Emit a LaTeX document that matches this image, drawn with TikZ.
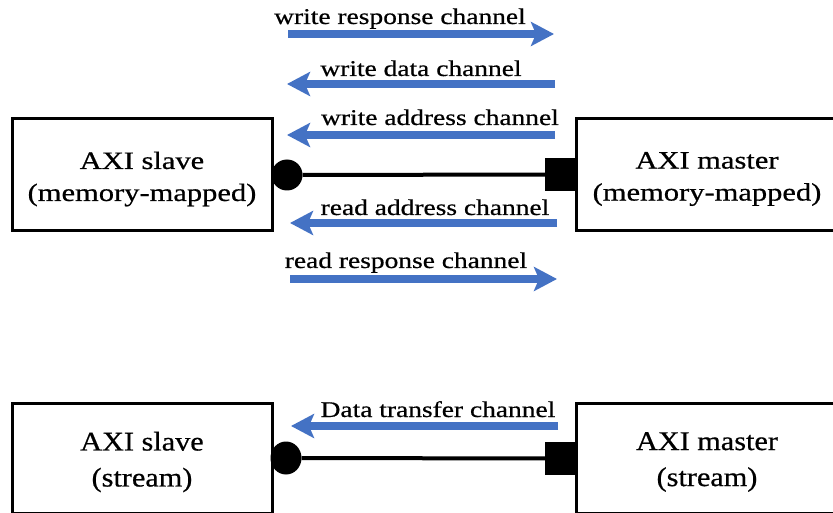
\documentclass[tikz,border=0pt]{standalone}
\usepackage{fontspec}
\setmainfont[FakeStretch=1.22,FakeBold=0.6]{Liberation Serif}
\newfontfamily\tallfont[FakeStretch=1.12,FakeBold=0.6]{Liberation Serif}
\usetikzlibrary{arrows.meta,shapes.geometric}
\definecolor{chanblue}{HTML}{4472C4}
\tikzset{
  ipbox/.style={draw=black, line width=3pt, fill=white, minimum width=260pt, inner sep=0pt},
  boxtext/.style={align=center, inner sep=0pt, font=\fontsize{25}{32}\selectfont},
  streamtext/.style={align=center, inner sep=0pt, font=\tallfont\fontsize{27}{36}\selectfont},
  chan/.style={draw=chanblue, line width=7.5pt, -{Stealth[length=23pt,width=24pt,inset=5pt]}},
  chanlabel/.style={anchor=base, inner sep=0pt, font=\fontsize{22.5}{27}\selectfont},
  link/.style={line width=4pt},
  slaveport/.style={circle, fill=black, minimum size=31pt, inner sep=0pt},
  masterport/.style={rectangle, fill=black, minimum width=31pt, minimum height=33pt, inner sep=0pt}
}
\begin{document}
\begin{tikzpicture}[x=1pt,y=-1pt]
\useasboundingbox (0,0) rectangle (833,513);
\clip (0,0) rectangle (833,513);

% ---------- memory-mapped interface ----------
\node[ipbox, minimum height=112pt] (slaveMM) at (142,175) {};
\node[ipbox, minimum height=112pt, minimum width=262pt] (masterMM) at (707,175) {};
\node[boxtext, yshift=-4pt] (slaveMMt) at (slaveMM.center) {AXI slave\\(memory-mapped)};
\node[boxtext, yshift=-4pt] (masterMMt) at (masterMM.center) {AXI master\\(memory-mapped)};

\node[slaveport] (slaveMMp) at (287,175) {};
\node[masterport] (masterMMp) at (560.5,174.5) {};
\draw[link] (slaveMMp) -- (masterMMp);

% channel arrows
\coordinate (wrA) at (288,34);  \coordinate (wrB) at (554,34);
\coordinate (wdA) at (555,84);  \coordinate (wdB) at (287,84);
\coordinate (waA) at (555,135); \coordinate (waB) at (287,135);
\coordinate (raA) at (557,223); \coordinate (raB) at (290,223);
\coordinate (rrA) at (290,279); \coordinate (rrB) at (557,279);
\draw[chan] (wrA) -- (wrB);
\draw[chan] (wdA) -- (wdB);
\draw[chan] (waA) -- (waB);
\draw[chan] (raA) -- (raB);
\draw[chan] (rrA) -- (rrB);

\node[chanlabel] (wrL) at (400,24)  {write response channel};
\node[chanlabel] (wdL) at (421,76)  {write data channel};
\node[chanlabel] (waL) at (440,125) {write address channel};
\node[chanlabel] (raL) at (435,215) {read address channel};
\node[chanlabel] (rrL) at (406,268) {read response channel};

% ---------- stream interface ----------
\node[ipbox, minimum height=110pt] (slaveS) at (142,458) {};
\node[ipbox, minimum height=110pt, minimum width=262pt] (masterS) at (707,458) {};
\node[streamtext, yshift=-4pt] (slaveSt) at (slaveS.center) {AXI slave\\(stream)};
\node[streamtext, yshift=-4pt] (masterSt) at (masterS.center) {AXI master\\(stream)};

\node[ellipse, fill=black, minimum width=31pt, minimum height=33pt, inner sep=0pt] (slaveSp) at (286,458) {};
\node[masterport] (masterSp) at (560.5,458.5) {};
\draw[link] (slaveSp) -- (masterSp);

\coordinate (dtA) at (558,426); \coordinate (dtB) at (291,426);
\draw[chan] (dtA) -- (dtB);
\node[chanlabel] (dtL) at (438,417) {Data transfer channel};
\end{tikzpicture}
\end{document}
